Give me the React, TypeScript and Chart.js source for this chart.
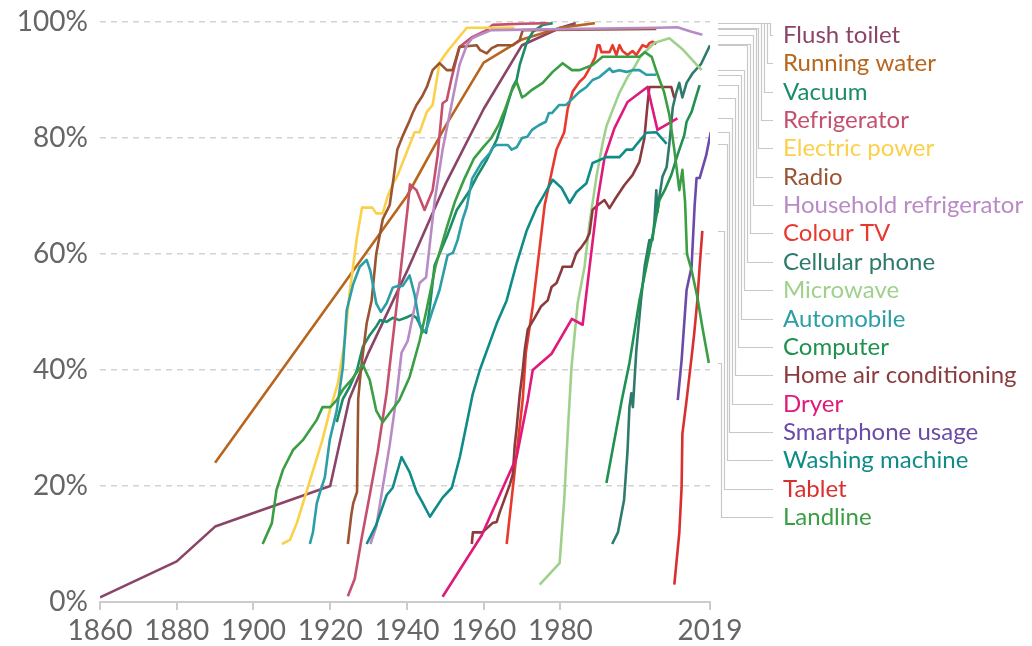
import React, { useEffect, useRef } from 'react';
import { Chart, registerables } from 'chart.js';

Chart.register(...registerables);

const xTicks = [1860, 1880, 1900, 1920, 1940, 1960, 1980, 2019];
const yTicks = [0, 20, 40, 60, 80, 100];

type Pt = [number, number];

const flushToilet: Pt[] = [[1860, 0.8], [1880, 7], [1890, 13], [1920, 20], [1925, 35], [1930, 43], [1940, 57], [1948, 69], [1950, 72], [1960, 85], [1970, 96], [1980, 99], [1984, 99.8]];
const runningWater: Pt[] = [[1890, 24], [1940, 70], [1950, 82], [1960, 93], [1970, 97], [1980, 99], [1989, 99.8]];
const vacuum: Pt[] = [[1921.7, 31], [1923.3, 35], [1925, 37], [1927, 40], [1928.5, 44], [1930.3, 46], [1932, 47.5], [1933, 48.6], [1934.7, 48.3], [1936.3, 49], [1938, 48.6], [1940, 49.1], [1941.3, 49.5], [1942.5, 49], [1944, 47], [1945, 46.4], [1946, 51], [1947.2, 58], [1950.4, 63], [1953, 67.6], [1956.4, 71], [1958.2, 73.3], [1960.8, 76.2], [1963.4, 79.7], [1965, 83], [1966, 85.3], [1967.6, 88.8], [1968.6, 90], [1969.4, 92.6], [1971.2, 96.4], [1972.8, 98.3], [1975.4, 99.5], [1978, 99.8]];
const refrigerator: Pt[] = [[1924.6, 1], [1926.4, 4], [1928.2, 11], [1930.3, 18.4], [1932.4, 26], [1934.7, 36], [1938, 55], [1940.2, 68], [1940.8, 72], [1942.5, 71], [1944.6, 67.6], [1946.7, 71], [1948, 77], [1949.3, 86], [1950.4, 86.5], [1951.7, 90.5], [1953.7, 95.7], [1957, 97.4], [1960.8, 98.6], [1962.3, 99.5], [1970, 99.7], [1977, 99.8]];
const electricPower: Pt[] = [[1907.4, 10], [1909.5, 10.7], [1911.3, 13.6], [1914.2, 19.8], [1918, 28], [1919.9, 33], [1922, 37.7], [1923.8, 45], [1925, 53], [1926, 58], [1927, 63], [1928.3, 68], [1931, 68], [1932, 67], [1933.7, 67], [1935, 70], [1936.3, 72], [1937.6, 73.6], [1942, 81], [1943.3, 81], [1945.2, 84.5], [1946.7, 85.7], [1948.5, 93], [1950.4, 94.8], [1955.6, 99], [1968, 99]];
const radio: Pt[] = [[1924.6, 10], [1925.5, 15], [1926, 17], [1927, 19], [1927.3, 35], [1928, 40], [1929.5, 48], [1930.8, 52], [1932, 60], [1933.7, 66], [1935.5, 68.4], [1936.5, 73], [1937.5, 78], [1939, 80.5], [1940.7, 83], [1941.5, 84.3], [1942.5, 85.7], [1943.9, 87.1], [1945.2, 88.8], [1946.7, 91.7], [1948.5, 92.9], [1950.4, 91.7], [1951.9, 91.7], [1953.7, 95.7], [1958.2, 96], [1959, 95.2], [1960.8, 94.6], [1962.1, 95.5], [1963.7, 96], [1967.6, 96], [1969.4, 96.9], [1970.2, 98.6], [2005, 98.8]];
const householdRefrigerator: Pt[] = [[1930.5, 10], [1932, 13], [1935.5, 27], [1937.3, 35.5], [1938.6, 43], [1940.2, 45], [1943.3, 55], [1945, 56], [1947.2, 69], [1949.3, 78], [1952, 87], [1953.7, 92.6], [1955.6, 96], [1957, 97.2], [1959, 97.8], [1962, 98.6], [2005.3, 99], [2010.5, 99.1], [2014.2, 98.3], [2017, 97.8]];
const colourTV: Pt[] = [[1966, 10], [1968, 22], [1970.2, 35], [1971, 43], [1972.8, 51], [1975.9, 68.4], [1977.7, 74], [1979, 78], [1981, 81], [1981.9, 85], [1983.2, 88], [1985, 89.7], [1986.3, 90.5], [1987.6, 92], [1989, 93.8], [1989.7, 96], [1990.2, 96], [1990.7, 94.8], [1992.8, 94.8], [1993.6, 96], [1994.6, 94.3], [1995.4, 96], [1996.2, 95], [1997.5, 94.3], [1998.8, 95], [1999.8, 94.3], [2001.4, 96], [2002.5, 95.7], [2003.3, 96.4], [2004, 96.6], [2005, 96.2]];
const cellularPhone: Pt[] = [[1993.5, 10], [1995, 12], [1996.6, 17.6], [1997.5, 26], [1998, 33.6], [1998.5, 36], [1998.9, 33.6], [1999.8, 43.4], [2001, 52], [2002, 58], [2003.2, 62.4], [2004, 62.4], [2004.5, 65.5], [2005, 71], [2005.3, 67.2], [2005.8, 69.8], [2006.6, 73.3], [2007.7, 75], [2008.4, 79], [2009.3, 85.3], [2010.2, 87.8], [2011, 89.5], [2011.8, 87], [2012.9, 89.5], [2014.5, 91.2], [2016.7, 92.8], [2019, 96]];
const microwave: Pt[] = [[1974.6, 3], [1979.8, 6.7], [1981, 17.6], [1981.9, 29], [1982.9, 40.5], [1984.5, 51.5], [1986.3, 57.8], [1987.6, 65.3], [1989.4, 73.3], [1991, 79.1], [1992, 82], [1993.6, 84.8], [1995.4, 87.8], [1997.5, 90.5], [1999.3, 92.2], [2000.8, 94], [2004.5, 96.4], [2008.4, 97.2], [2012, 95.2], [2016.8, 91.7]];
const automobile: Pt[] = [[1914.7, 10], [1915.5, 12], [1916.5, 17], [1917.3, 18.8], [1918.6, 21.5], [1919.9, 28], [1921.7, 33], [1923.3, 40.5], [1924.3, 50.3], [1926, 54.8], [1927.7, 57.8], [1929.5, 59], [1930.5, 57], [1932, 51.5], [1933.2, 50], [1934.7, 51.5], [1936.3, 54.2], [1937.6, 54.5], [1938.9, 54.5], [1940.7, 56.3], [1942, 53], [1943.3, 48], [1944, 46.5], [1945, 46.9], [1946.7, 50.3], [1948.5, 53.8], [1950.6, 59.8], [1952, 60.2], [1953.2, 62.4], [1954.5, 65.9], [1955.6, 68.1], [1957, 73], [1959.5, 75.8], [1961.6, 77.4], [1962.4, 78.4], [1963.4, 78.8], [1966.3, 78.8], [1967.3, 78], [1968.6, 78.4], [1970, 80], [1971.4, 80.2], [1972.6, 81.4], [1974.4, 82.2], [1976.2, 82.8], [1977, 84.3], [1977.8, 84.3], [1979.7, 85.7], [1981.5, 85.7], [1984.1, 87.4], [1984.9, 87.9], [1986.8, 88.8], [1988.4, 90], [1990.2, 90.5], [1992.8, 92], [1993.6, 91.4], [1995.4, 91.7], [1997.2, 91.4], [1998.8, 91.7], [2000.6, 91.7], [2002.4, 90.9], [2005, 90.9]];
const computer: Pt[] = [[1992, 20.5], [1996, 34.8], [1998, 41.2], [2000.6, 52], [2002.4, 57.8], [2004.5, 64.7], [2005.8, 69.3], [2007.2, 71], [2008.9, 73.6], [2010.5, 77], [2012.3, 80.5], [2012.9, 82.8], [2014.2, 84.5], [2015.5, 87.4], [2016.3, 89.1]];
const homeAirConditioning: Pt[] = [[1956.9, 10], [1957.2, 12], [1959.7, 12], [1962.3, 13.6], [1963.4, 13.8], [1964.2, 15.5], [1966.8, 20.2], [1967.6, 22], [1968.1, 27], [1968.6, 30], [1969.4, 35.7], [1970.2, 40], [1970.7, 43.4], [1971.5, 47], [1973.3, 49], [1975, 51], [1976.7, 52], [1977.7, 54.3], [1979, 55], [1980.3, 57.2], [1980.6, 57.8], [1982.9, 57.8], [1984.2, 60.2], [1985.5, 61.2], [1986.8, 62.4], [1987.6, 63.6], [1988.4, 67.6], [1989.7, 68.4], [1991.5, 69.3], [1992.8, 67.9], [1994.1, 69.3], [1996.7, 71.9], [1998.8, 73.6], [2000.6, 75.9], [2001.9, 80], [2002.7, 85.7], [2003.2, 88.8], [2008.9, 88.8], [2009.7, 86.9]];
const dryer: Pt[] = [[1949.3, 0.9], [1959.5, 11.5], [1968.6, 25], [1971.5, 34.8], [1972.8, 40], [1977.7, 42.8], [1983, 48.8], [1985.8, 47.8], [1989.7, 69.3], [1991.5, 76.6], [1994.1, 81.7], [1997.5, 86.2], [2002.7, 88.8], [2005.3, 81.4], [2010.5, 83.4]];
const smartphoneUsage: Pt[] = [[2010.6, 34.8], [2011.6, 41.7], [2012.9, 53.8], [2014.2, 57.8], [2015, 68.4], [2015.5, 73.1], [2016.3, 73.1], [2018, 77], [2019.2, 81]];
const washingMachine: Pt[] = [[1929.5, 10], [1932, 13.3], [1934.7, 18.4], [1936.3, 19.7], [1938.6, 25], [1940.7, 22.4], [1942.5, 19], [1944, 17.2], [1946, 14.7], [1947.2, 15.9], [1949.3, 18], [1951.7, 19.7], [1953.8, 25], [1957.1, 35.7], [1959, 40], [1963.4, 48], [1966, 52], [1968.6, 58.4], [1971.2, 64], [1973.8, 68], [1975.4, 69.8], [1978, 72.8], [1980.3, 71.4], [1982.4, 68.8], [1984.2, 70.7], [1986.8, 72.2], [1988.4, 75.7], [1992, 76.7], [1995.4, 76.7], [1997.2, 78], [1998.8, 78], [2000, 79], [2002.4, 80.9], [2005, 81], [2007.7, 79]];
const tablet: Pt[] = [[2009.7, 3], [2011, 11.9], [2011.6, 19.8], [2011.8, 29], [2012.9, 34.8], [2014.4, 43.4], [2014.9, 46.4], [2015.7, 52], [2016.3, 57.8], [2017, 64]];
const landline: Pt[] = [[1902.4, 10], [1904.8, 13.6], [1906, 19.3], [1907.7, 22.8], [1910.3, 26.2], [1913, 28], [1916.5, 31.4], [1918, 33.6], [1920, 33.6], [1921.7, 34.8], [1923.3, 36.6], [1925.9, 38.6], [1927.7, 40.3], [1928.5, 40.9], [1930.3, 38.3], [1932, 33], [1933.7, 31], [1935.5, 32.6], [1938, 34.8], [1940.7, 38.8], [1943.3, 45], [1945, 50], [1947.5, 58], [1950.4, 64.6], [1952.5, 69], [1955, 73], [1957.5, 76.5], [1960, 78.5], [1962, 80], [1964, 82.4], [1965.6, 85], [1967.2, 88], [1968.6, 89.7], [1970, 87], [1971, 87.4], [1972.6, 88.3], [1975.4, 89.5], [1978, 91.4], [1980.6, 92.9], [1983, 91.7], [1985, 91.7], [1988.4, 92.6], [1991, 94], [2000.6, 94], [2002, 94.8], [2003.8, 94], [2005.2, 91.2], [2007, 88], [2008.4, 84], [2009.7, 78], [2011, 71], [2011.8, 74.5], [2012.5, 69], [2013, 60], [2014.2, 57.2], [2015.7, 52.6], [2017, 47.4], [2018.7, 41.2]];

const seriesNames = ['Flush toilet', 'Running water', 'Vacuum', 'Refrigerator', 'Electric power', 'Radio', 'Household refrigerator', 'Colour TV', 'Cellular phone', 'Microwave', 'Automobile', 'Computer', 'Home air conditioning', 'Dryer', 'Smartphone usage', 'Washing machine', 'Tablet', 'Landline'];
const seriesData = [flushToilet, runningWater, vacuum, refrigerator, electricPower, radio, householdRefrigerator, colourTV, cellularPhone, microwave, automobile, computer, homeAirConditioning, dryer, smartphoneUsage, washingMachine, tablet, landline];
const seriesColors = ['#8a4468', '#b8651e', '#198c6a', '#c4506e', '#fbd04a', '#9a5431', '#b88bc6', '#e8392f', '#2e7b6c', '#9fd18c', '#2b9ea8', '#1f9150', '#8c3b3d', '#df1a7a', '#6b4aa8', '#108c88', '#d8302e', '#3b9e45'];

const leaderPlugin = {
  id: 'leaders',
  afterDatasetsDraw(chart: any) {
    const { ctx, chartArea, scales } = chart;
    const x0 = chartArea.right + 8;
    ctx.save();
    seriesNames.forEach((name, i) => {
      const pts = seriesData[i];
      const last = pts[pts.length - 1][1];
      const y0 = Math.round(scales.y.getPixelForValue(last)) + 0.5;
      const ly = Math.round(chartArea.top + 13 + i * 28.35) + 0.5;
      const ex = Math.round(chartArea.right + 60 - i * 2.9) + 0.5;
      ctx.strokeStyle = '#c8c8c8';
      ctx.lineWidth = 1.2;
      ctx.beginPath();
      ctx.moveTo(x0, y0);
      ctx.lineTo(ex, y0);
      ctx.lineTo(ex, ly);
      ctx.lineTo(chartArea.right + 63, ly);
      ctx.stroke();
      ctx.fillStyle = seriesColors[i];
      ctx.font = '24px Lato';
      ctx.textBaseline = 'middle';
      ctx.textAlign = 'left';
      ctx.fillText(name, chartArea.right + 73, ly);
    });
    ctx.restore();
  },
};

export default function App() {
  const ref = useRef<HTMLCanvasElement>(null);
  useEffect(() => {
    if (!ref.current) return;
    const order = seriesNames.map((_, i) => i).reverse();
    const chart = new Chart(ref.current, {
      type: 'line',
      data: {
        datasets: order.map((i) => ({
          label: seriesNames[i],
          data: seriesData[i].map(([x, y]) => ({ x, y })),
          borderColor: seriesColors[i],
          backgroundColor: seriesColors[i],
          borderWidth: 2.6,
          pointRadius: 0,
          tension: 0,
          fill: false,
          borderJoinStyle: 'round' as const,
        })),
      },
      options: {
        responsive: false,
        animation: false,
        layout: { padding: { top: 22, right: 322, bottom: 0, left: 0 } },
        plugins: { legend: { display: false }, tooltip: { enabled: false } },
        scales: {
          x: {
            type: 'linear',
            min: 1860,
            max: 2019,
            afterBuildTicks: (s: any) => {
              s.ticks = xTicks.map((v) => ({ value: v }));
            },
            afterFit: (s: any) => {
              s.height = 44;
              s.paddingLeft = 0;
              s.paddingRight = 0;
              s.paddingTop = 0;
              s.paddingBottom = 0;
            },
            ticks: {
              callback: (v: any) => String(v),
              font: { family: 'Lato', size: 28 },
              color: '#666666',
              padding: 4,
              maxRotation: 0,
              autoSkip: false,
            },
            grid: { display: true, drawOnChartArea: false, drawTicks: true, tickLength: 8, color: '#cccccc', lineWidth: 2 },
            border: { display: true, color: '#cccccc', width: 2 },
          },
          y: {
            min: 0,
            max: 100,
            afterBuildTicks: (s: any) => {
              s.ticks = yTicks.map((v) => ({ value: v }));
            },
            afterFit: (s: any) => {
              s.width = 100;
              s.paddingTop = 0;
              s.paddingBottom = 0;
              s.paddingLeft = 0;
              s.paddingRight = 0;
            },
            ticks: {
              callback: (v: any) => v + '%',
              font: { family: 'Lato', size: 28 },
              color: '#666666',
              padding: 12,
            },
            grid: {
              color: (c: any) => (c.tick && c.tick.value === 0 ? 'rgba(0,0,0,0)' : '#d3d3d3'),
              lineWidth: 1.5,
              drawTicks: false,
            },
            border: { display: false, dash: [6, 5] },
          },
        },
      },
      plugins: [leaderPlugin],
    });
    return () => chart.destroy();
  }, []);
  return (
    <div style={{ position: 'fixed', left: 0, top: 0, width: 1032, height: 646, background: '#fff' }}>
      <canvas ref={ref} width={1032} height={646} />
    </div>
  );
}
